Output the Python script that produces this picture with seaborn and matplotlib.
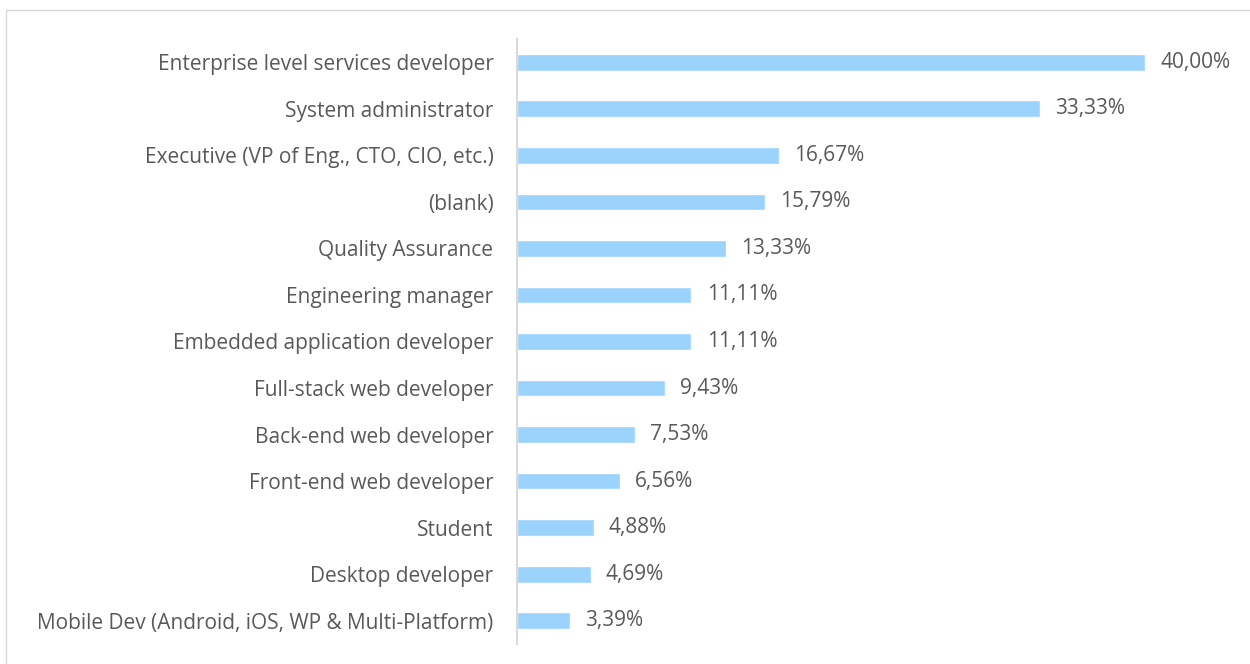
#!/usr/bin/env python3

import matplotlib

matplotlib.use("Agg")
import matplotlib.patches as mpatches
import matplotlib.pyplot as plt
import pandas as pd
import seaborn as sns

# Data.
roles = [
    "Enterprise level services developer",
    "System administrator",
    "Executive (VP of Eng., CTO, CIO, etc.)",
    "(blank)",
    "Quality Assurance",
    "Engineering manager",
    "Embedded application developer",
    "Full-stack web developer",
    "Back-end web developer",
    "Front-end web developer",
    "Student",
    "Desktop developer",
    "Mobile Dev (Android, iOS, WP & Multi-Platform)",
]
shares = [40.00, 33.33, 16.67, 15.79, 13.33, 11.11, 11.11, 9.43, 7.53, 6.56, 4.88, 4.69, 3.39]

BAR_COLOR = "#9BD3FD"
TEXT_COLOR = "#595959"
LINE_COLOR = "#D9D9D9"
FONT_SIZE = 15

sns.set_style("white")
plt.rcParams["font.family"] = ["Open Sans", "DejaVu Sans"]

df = pd.DataFrame({"role": roles, "share": shares})

fig = plt.figure(figsize=(12.5, 6.64), dpi=100)

# Light frame around the chart area (cut off at right/bottom like the source).
fig.patches.append(
    mpatches.Rectangle(
        (6 / 1250, -0.05), 1.1, 1 - 10 / 664 + 0.05,
        transform=fig.transFigure, fill=False, edgecolor=LINE_COLOR, linewidth=1,
    )
)

ax = fig.add_axes([517 / 1250, 20 / 664, 693 / 1250, 605 / 664])
sns.barplot(
    data=df, x="share", y="role", orient="h", color=BAR_COLOR,
    saturation=1, width=0.36, ax=ax,
)

ax.set_xlim(0, 693 / 15.7)
ax.set_ylim(len(roles) - 0.5, -0.5)
ax.set_xlabel("")
ax.set_ylabel("")
ax.set_xticks([])
for side in ["top", "right", "bottom"]:
    ax.spines[side].set_visible(False)
ax.spines["left"].set_color(LINE_COLOR)
ax.spines["left"].set_linewidth(1.5)
ax.tick_params(axis="y", length=0, pad=17, labelsize=FONT_SIZE, labelcolor=TEXT_COLOR)

for i, value in enumerate(shares):
    ax.annotate(
        f"{value:.2f}%".replace(".", ","),
        xy=(value, i), xytext=(11, 0), textcoords="offset points",
        ha="left", va="center", fontsize=FONT_SIZE, color=TEXT_COLOR,
    )

plt.savefig("out.png", dpi=100)
plt.close()
